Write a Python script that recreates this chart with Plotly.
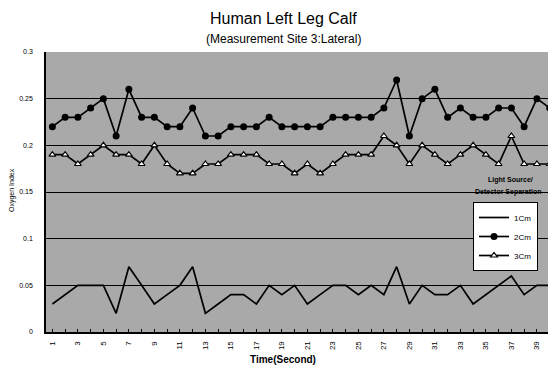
import plotly.graph_objects as go

seconds = list(range(1, 41))
tick_labels = [str(s) if s % 2 == 1 else "" for s in seconds]
y_ticks = [0, 0.05, 0.1, 0.15, 0.2, 0.25, 0.3]
y_tick_labels = ["0", "0.05", "0.1", "0.15", "0.2", "0.25", "0.3"]

sep_1cm = [0.03, 0.04, 0.05, 0.05, 0.05, 0.02, 0.07, 0.05, 0.03, 0.04,
           0.05, 0.07, 0.02, 0.03, 0.04, 0.04, 0.03, 0.05, 0.04, 0.05,
           0.03, 0.04, 0.05, 0.05, 0.04, 0.05, 0.04, 0.07, 0.03, 0.05,
           0.04, 0.04, 0.05, 0.03, 0.04, 0.05, 0.06, 0.04, 0.05, 0.05]
sep_2cm = [0.22, 0.23, 0.23, 0.24, 0.25, 0.21, 0.26, 0.23, 0.23, 0.22,
           0.22, 0.24, 0.21, 0.21, 0.22, 0.22, 0.22, 0.23, 0.22, 0.22,
           0.22, 0.22, 0.23, 0.23, 0.23, 0.23, 0.24, 0.27, 0.21, 0.25,
           0.26, 0.23, 0.24, 0.23, 0.23, 0.24, 0.24, 0.22, 0.25, 0.24]
sep_3cm = [0.19, 0.19, 0.18, 0.19, 0.20, 0.19, 0.19, 0.18, 0.20, 0.18,
           0.17, 0.17, 0.18, 0.18, 0.19, 0.19, 0.19, 0.18, 0.18, 0.17,
           0.18, 0.17, 0.18, 0.19, 0.19, 0.19, 0.21, 0.20, 0.18, 0.20,
           0.19, 0.18, 0.19, 0.20, 0.19, 0.18, 0.21, 0.18, 0.18, 0.18]

FONT = "Liberation Sans, Arial, sans-serif"
OFF = 8  # page body margin
W, H = 556 - OFF, 368 - OFF
ML, MR, MT, MB = 46 - OFF, 0, 52 - OFF, 36
PW, PH = W - ML - MR, H - MT - MB


def px_x(x):
    return (x - OFF - ML) / PW


def px_y(y):
    return (H - MB - (y - OFF)) / PH


fig = go.Figure()
fig.add_trace(go.Scatter(x=seconds, y=sep_1cm, name="1Cm", mode="lines",
                         line=dict(color="black", width=1.7)))
fig.add_trace(go.Scatter(x=seconds, y=sep_2cm, name="2Cm", mode="lines+markers",
                         line=dict(color="black", width=1.7),
                         marker=dict(symbol="circle", size=7, color="black")))
fig.add_trace(go.Scatter(x=seconds, y=sep_3cm, name="3Cm", mode="lines+markers",
                         line=dict(color="black", width=1.7),
                         marker=dict(symbol="triangle-up", size=6, color="white",
                                     line=dict(color="black", width=1.2))))


def ann(text, x, y, size, bold=False, angle=0):
    return dict(text=f"<b>{text}</b>" if bold else text,
                x=px_x(x), y=px_y(y), xref="paper", yref="paper",
                xanchor="center", yanchor="middle", showarrow=False,
                textangle=angle,
                font=dict(size=size, family=FONT, color="black"))


fig.update_layout(
    width=W, height=H,
    margin=dict(l=ML, r=MR, t=MT, b=MB, autoexpand=False),
    paper_bgcolor="white",
    plot_bgcolor="#a9a9a9",
    font=dict(family=FONT, color="black"),
    showlegend=True,
    legend=dict(x=px_x(538), y=px_y(202), xanchor="right", yanchor="top",
                bgcolor="white", bordercolor="black", borderwidth=1,
                font=dict(size=8, family=FONT, color="black"), itemwidth=30,
                tracegroupgap=0),
    annotations=[
        ann("Human Left Leg Calf", 283, 18, 16),
        ann("(Measurement Site 3:Lateral)", 283, 39, 12),
        ann("Light Source/", 510, 180, 7, bold=True),
        ann("Detector Separation", 508, 192, 7, bold=True),
        ann("<b>Time(Second)</b>", 283, 359, 10),
        ann("Oxygen Index", 12, 190, 7, angle=-90),
    ],
)

fig.update_xaxes(
    automargin=False,
    range=[0.5, 40.5], tickmode="array", tickvals=seconds, ticktext=tick_labels,
    tickangle=-90, tickfont=dict(size=8, family=FONT, color="black"),
    ticks="inside", ticklen=3, tickcolor="black", ticklabelstandoff=4,
    showline=True, linecolor="black", linewidth=2, showgrid=False, zeroline=False,
)
fig.update_yaxes(
    automargin=False,
    range=[0, 0.3], tickmode="array", tickvals=y_ticks, ticktext=y_tick_labels,
    tickfont=dict(size=7, family=FONT, color="black"),
    ticks="outside", ticklen=10, tickcolor="rgba(0,0,0,0)",
    showline=True, linecolor="black", linewidth=1.5,
    showgrid=True, gridcolor="black", gridwidth=1, zeroline=False,
)

fig.write_html("out.html")
